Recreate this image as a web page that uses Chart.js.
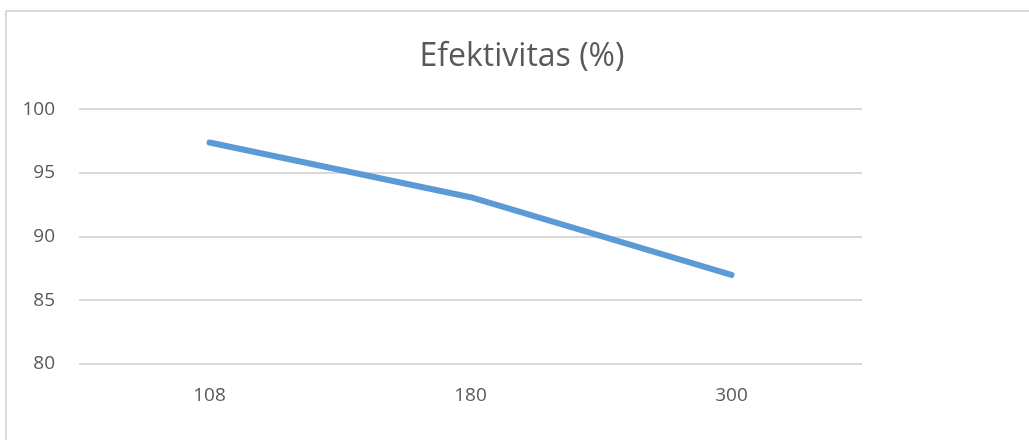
<!DOCTYPE html>
<html>
<head>
<meta charset="utf-8">
<script src="https://cdn.jsdelivr.net/npm/chart.js@4.4.1/dist/chart.umd.min.js"></script>
<style>
  html, body { margin: 0; padding: 0; background: #ffffff; }
  body { width: 1029px; height: 440px; overflow: hidden; position: relative; }
  #frame {
    position: absolute; left: 5px; top: 10px; width: 1100px; height: 500px;
    border-left: 2px solid #d9d9d9; border-top: 2px solid #d9d9d9;
    pointer-events: none;
  }
  #wrap { position: absolute; left: 0; top: 0; width: 1029px; height: 440px; }
</style>
</head>
<body>
<div id="wrap"><canvas id="chart" width="1029" height="440"></canvas></div>
<div id="frame"></div>
<script>
// Flow rate categories and measured effectiveness
const categories = ['108', '180', '300'];
const efektivitas = [97.4, 93.1, 87.0];
const yTicks = [80, 85, 90, 95, 100];
const chartTitle = 'Efektivitas (%)';

const FONT = '"Open Sans", "Liberation Sans", sans-serif';
const TEXT_GRAY = '#595959';

new Chart(document.getElementById('chart'), {
  type: 'line',
  data: {
    labels: categories,
    datasets: [{
      label: chartTitle,
      data: efektivitas,
      yAxisID: 'y',
      borderColor: '#5b9bd5',
      backgroundColor: '#5b9bd5',
      borderWidth: 6,
      borderCapStyle: 'round',
      borderJoinStyle: 'round',
      pointRadius: 0,
      pointHoverRadius: 0,
      tension: 0,
      fill: false
    }]
  },
  options: {
    responsive: false,
    animation: false,
    layout: { padding: { left: 15, right: 0, top: 0, bottom: 0 } },
    plugins: {
      legend: { display: false },
      tooltip: { enabled: false },
      title: {
        display: true,
        text: chartTitle,
        color: TEXT_GRAY,
        font: { family: FONT, size: 32, weight: 'normal' },
        padding: { top: 38, bottom: 33 }
      }
    },
    scales: {
      x: {
        offset: true,
        grid: { display: false, drawTicks: false },
        border: { display: false },
        ticks: {
          color: TEXT_GRAY,
          font: { family: FONT, size: 19 },
          padding: 20
        },
        afterFit: (scale) => { scale.height = 76; }
      },
      y: {
        min: 80,
        max: 100,
        afterBuildTicks: (scale) => {
          scale.ticks = yTicks.map(v => ({ value: v }));
        },
        grid: { color: '#d9d9d9', lineWidth: 2, drawTicks: false },
        border: { display: false },
        ticks: {
          color: TEXT_GRAY,
          font: { family: FONT, size: 19 },
          padding: 24
        },
        afterFit: (scale) => { scale.width = 64; }
      },
      // empty band on the right side of the plot
      side: {
        position: 'right',
        min: 80,
        max: 100,
        grid: { display: false, drawTicks: false },
        border: { display: false },
        ticks: { display: false },
        afterFit: (scale) => { scale.width = 167; }
      }
    }
  }
});
</script>
</body>
</html>
